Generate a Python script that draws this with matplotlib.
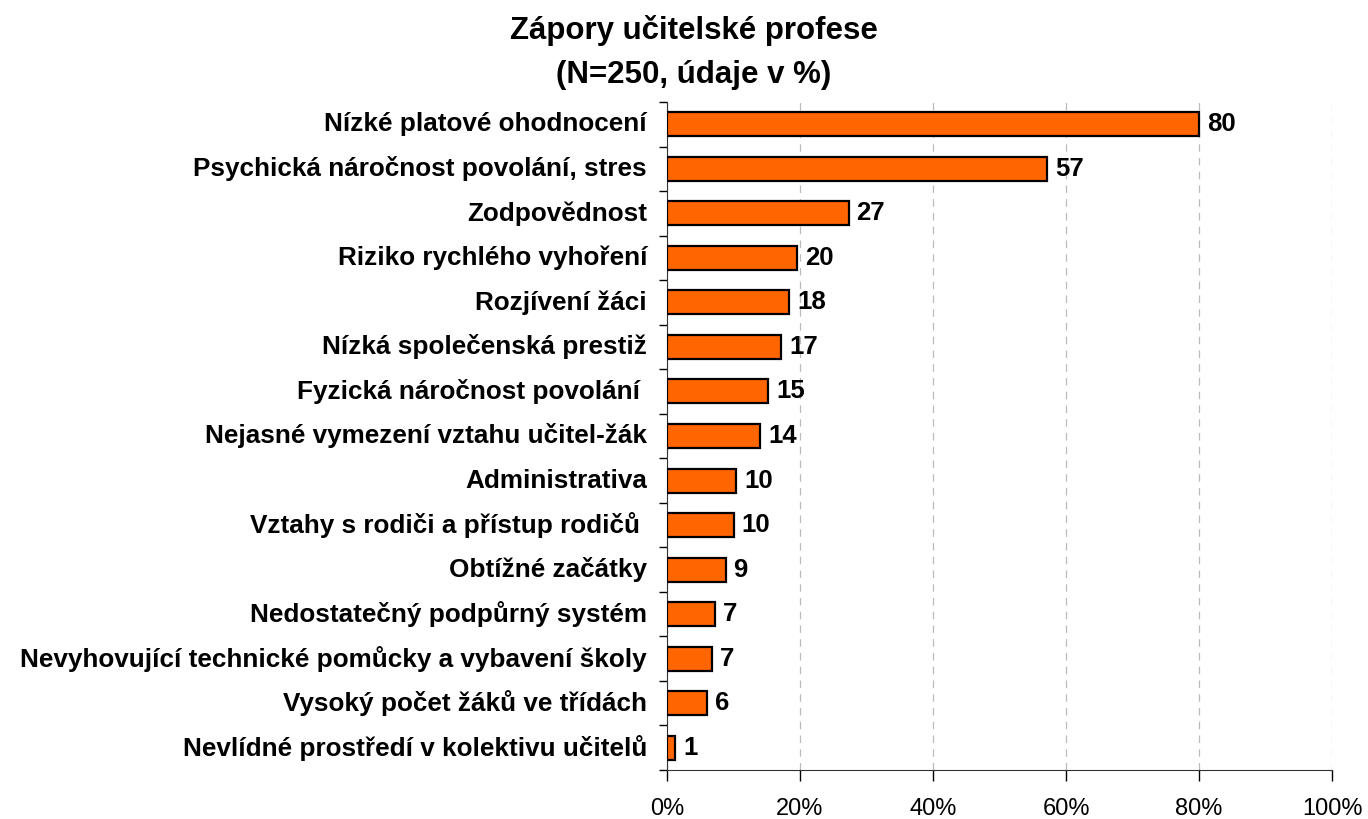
import matplotlib
matplotlib.use("Agg")
import matplotlib.pyplot as plt
import numpy as np

plt.rcParams['font.family'] = ['Liberation Sans', 'DejaVu Sans']

# categories from top to bottom
categories = [
    "Nízké platové ohodnocení",
    "Psychická náročnost povolání, stres",
    "Zodpovědnost",
    "Riziko rychlého vyhoření",
    "Rozjívení žáci",
    "Nízká společenská prestiž",
    "Fyzická náročnost povolání ",
    "Nejasné vymezení vztahu učitel-žák",
    "Administrativa",
    "Vztahy s rodiči a přístup rodičů ",
    "Obtížné začátky",
    "Nedostatečný podpůrný systém",
    "Nevyhovující technické pomůcky a vybavení školy",
    "Vysoký počet žáků ve třídách",
    "Nevlídné prostředí v kolektivu učitelů",
]
values = [80, 57.2, 27.3, 19.6, 18.4, 17.2, 15.2, 14.0, 10.4, 10.0, 8.8, 7.2, 6.8, 6.0, 1.2]
value_labels = ["80", "57", "27", "20", "18", "17", "15", "14", "10", "10", "9", "7", "7", "6", "1"]
xticks = [0, 20, 40, 60, 80, 100]

fig = plt.figure(figsize=(13.68, 8.19), dpi=100)
ax = fig.add_axes([0.4876, 0.0598, 0.4861, 0.8157])

y = np.arange(len(categories))
ax.barh(y, values, height=0.54, color="#FF6600", edgecolor="black", linewidth=1.6, zorder=3)

for yi, v, lab in zip(y, values, value_labels):
    ax.text(v + 1.2, yi, lab, va="center", ha="left", fontsize=18.5, fontweight="bold")

ax.set_xlim(0, 100)
ax.set_ylim(len(categories) - 0.5, -0.5)
ax.set_xticks(xticks)
ax.set_xticklabels([f"{t}%" for t in xticks], fontsize=17)
ax.tick_params(axis="x", length=8, width=1, pad=12, direction="out")

# category labels centred on bars, ticks between bars
ax.set_yticks(np.arange(len(categories) + 1) - 0.5)
ax.set_yticklabels([])
ax.tick_params(axis="y", length=6, width=1, direction="out")
for yi, c in zip(y, categories):
    ax.text(-3.0, yi, c, ha="right", va="center", fontsize=18.8, fontweight="bold",
            transform=ax.transData)

ax.grid(axis="x", linestyle=(0, (6, 5)), color="#bbbbbb", linewidth=0.9, zorder=0)
ax.spines["top"].set_visible(False)
ax.spines["right"].set_visible(False)
ax.spines["left"].set_color("#333333")
ax.spines["bottom"].set_color("#333333")

fig.text(0.507, 0.963, "Zápory učitelské profese", ha="center", va="center",
         fontsize=22.5, fontweight="bold")
fig.text(0.507, 0.909, "(N=250, údaje v %)", ha="center", va="center",
         fontsize=22.5, fontweight="bold")

fig.savefig("out.png", dpi=100)
